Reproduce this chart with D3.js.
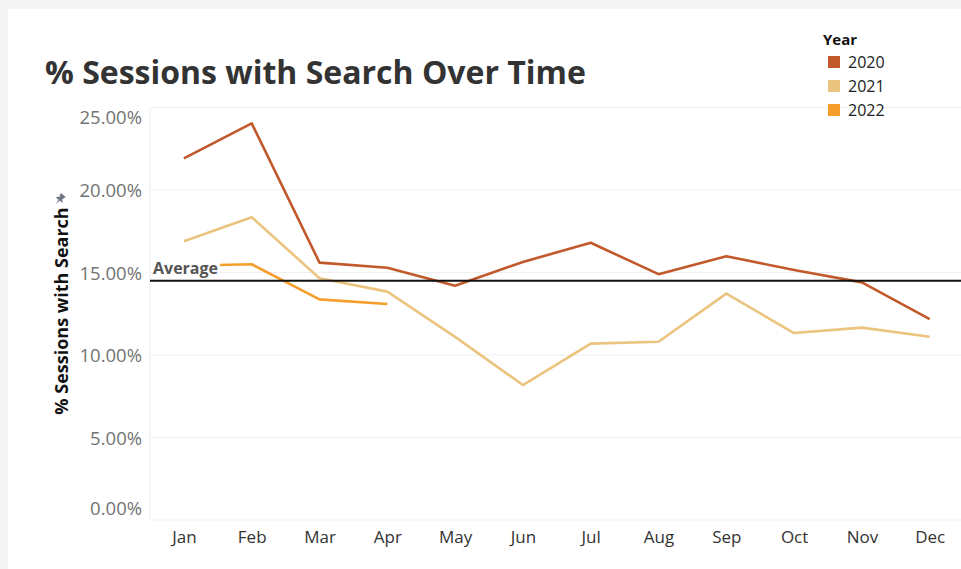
<!DOCTYPE html>
<html>
<head>
<meta charset="utf-8">
<script src="https://cdn.jsdelivr.net/npm/d3@7"></script>
<style>
  html, body { margin: 0; padding: 0; background: #f4f4f4; }
  svg { display: block; }
  text { font-family: "Open Sans", "Noto Sans", sans-serif; }
</style>
</head>
<body>
<svg id="chart" width="961" height="569"></svg>
<script>
// Monthly share of sessions that used search, per year (percent)
const months = ["Jan", "Feb", "Mar", "Apr", "May", "Jun", "Jul", "Aug", "Sep", "Oct", "Nov", "Dec"];
const years = ["2020", "2021", "2022"];
const values2020 = [21.92, 24.04, 15.60, 15.29, 14.20, 15.64, 16.80, 14.90, 15.98, 15.15, 14.40, 12.18];
const values2021 = [16.90, 18.35, 14.65, 13.84, 11.10, 8.18, 10.69, 10.80, 13.72, 11.33, 11.66, 11.11];
const values2022 = [15.41, 15.50, 13.37, 13.09];
const yTicks = [0, 5, 10, 15, 20, 25];
const yearColors = ["#c2592b", "#ebc47f", "#f59e2c"];

const seriesValues = [values2020, values2021, values2022];

const svg = d3.select("#chart");
const W = 961, H = 569;

// white card over the light grey page
svg.append("rect").attr("x", 8).attr("y", 9).attr("width", W - 8).attr("height", H - 9).attr("fill", "#ffffff");

const plot = { left: 150, right: 963.6, top: 107.5, bottom: 520 };

const x = d3.scalePoint().domain(months).range([plot.left, plot.right]).padding(0.5);
const y = d3.scaleLinear().domain([0, 25]).range([plot.bottom, plot.top]);

// gridlines
svg.append("g").selectAll("line").data(yTicks).join("line")
  .attr("x1", plot.left).attr("x2", W)
  .attr("y1", d => y(d)).attr("y2", d => y(d))
  .attr("stroke", "#efefef").attr("stroke-width", 1);
svg.append("line")
  .attr("x1", plot.left).attr("x2", plot.left)
  .attr("y1", plot.top).attr("y2", plot.bottom)
  .attr("stroke", "#efefef");

// y axis
const yAxis = d3.axisLeft(y).tickValues(yTicks).tickSize(0).tickPadding(8)
  .tickFormat(d => d3.format(".2f")(d) + "%");
const gy = svg.append("g").attr("transform", `translate(${plot.left},0)`).call(yAxis);
gy.select(".domain").remove();
gy.selectAll("text")
  .attr("fill", "#737373").attr("font-size", 18.5)
  .attr("dy", d => d === 25 ? "0.85em" : d === 0 ? "-0.3em" : "0.36em");

// x axis
const xAxis = d3.axisBottom(x).tickSize(0).tickPadding(11);
const gx = svg.append("g").attr("transform", `translate(0,${plot.bottom})`).call(xAxis);
gx.select(".domain").remove();
gx.selectAll("text").attr("fill", "#333").attr("font-size", 17);

// y axis title with pin glyph
svg.append("text")
  .attr("transform", `translate(68,311) rotate(-90)`)
  .attr("text-anchor", "middle")
  .attr("font-size", 18).attr("font-weight", 700).attr("fill", "#111")
  .text("% Sessions with Search");
svg.append("path")
  .attr("transform", "translate(60,199) rotate(40) scale(1.3)")
  .attr("d", "M-2.5,-4 L2.5,-4 L1.5,-1 L3.5,1.2 L-3.5,1.2 L-1.5,-1 Z M-0.6,1.2 L0,5 L0.6,1.2 Z")
  .attr("fill", "#707887");

// series lines
const line = d3.line().x((d, i) => x(months[i])).y(d => y(d));
svg.append("g").selectAll("path").data(seriesValues).join("path")
  .attr("d", d => line(d))
  .attr("fill", "none")
  .attr("stroke", (d, i) => yearColors[i])
  .attr("stroke-width", 2.6)
  .attr("stroke-linejoin", "round");

// reference line: mean across all plotted months
const allVals = seriesValues.flat();
const avg = d3.mean(allVals);
svg.append("line")
  .attr("x1", plot.left).attr("x2", W)
  .attr("y1", y(avg)).attr("y2", y(avg))
  .attr("stroke", "#111").attr("stroke-width", 2);

const avgLabel = svg.append("g");
const avgBox = avgLabel.append("rect").attr("fill", "#ffffff");
const avgText = avgLabel.append("text")
  .attr("x", 153).attr("y", y(avg) - 7)
  .attr("font-size", 16).attr("font-weight", 700).attr("fill", "#555")
  .text("Average");
const bb = avgText.node().getBBox();
avgBox.attr("x", bb.x - 1).attr("y", bb.y).attr("width", bb.width + 3).attr("height", bb.height);

// title
svg.append("text")
  .attr("x", 45).attr("y", 84)
  .attr("font-size", 32).attr("font-weight", 700).attr("fill", "#333")
  .text("% Sessions with Search Over Time");

// legend
const lg = svg.append("g").attr("transform", "translate(823,0)");
lg.append("text").attr("x", 0).attr("y", 45)
  .attr("font-size", 15).attr("font-weight", 700).attr("fill", "#111").text("Year");
const rows = lg.selectAll("g.row").data(years).join("g")
  .attr("class", "row")
  .attr("transform", (d, i) => `translate(0,${62 + i * 24})`);
rows.append("rect").attr("x", 5).attr("y", -6).attr("width", 12).attr("height", 12)
  .attr("fill", (d, i) => yearColors[i]);
rows.append("text").attr("x", 25).attr("y", 0).attr("dy", "0.36em")
  .attr("font-size", 16).attr("fill", "#222").text(d => d);
</script>
</body>
</html>
